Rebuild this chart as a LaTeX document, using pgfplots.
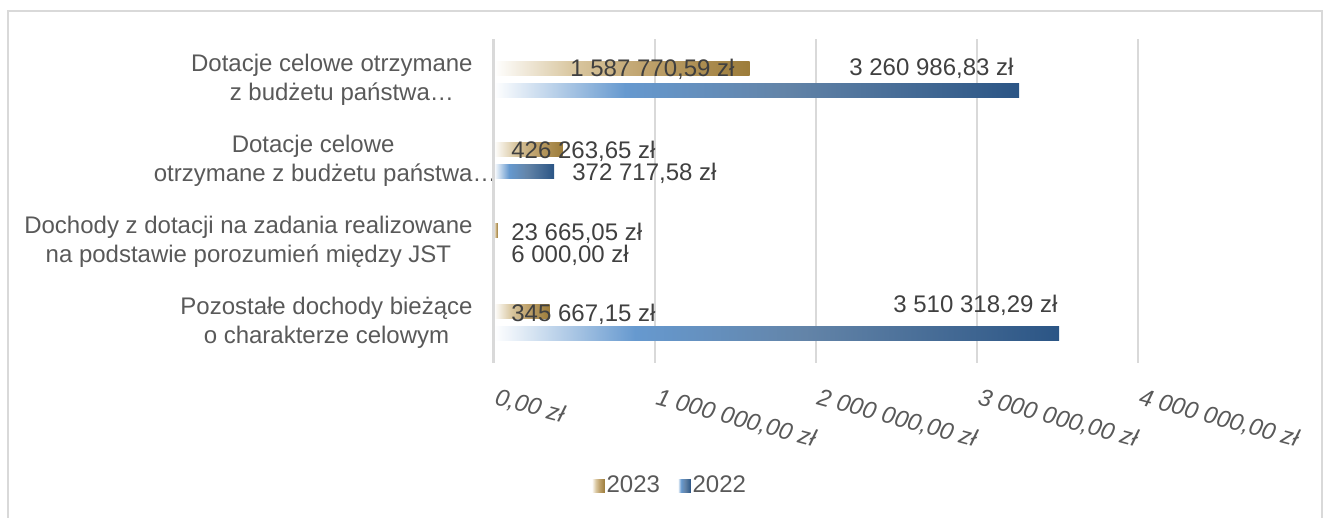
\documentclass[border=0pt]{standalone}
\usepackage{pgfplots}
\pgfplotsset{compat=1.18}
\usepackage{fontspec}
\setmainfont{Liberation Sans}
\definecolor{goldA}{HTML}{DAC8A2}
\definecolor{goldB}{HTML}{BEA16B}
\definecolor{goldC}{HTML}{9C7C3A}
\definecolor{blueA}{HTML}{6699CF}
\definecolor{blueB}{HTML}{6384A8}
\definecolor{blueC}{HTML}{2B5585}
\definecolor{gridgray}{HTML}{D9D9D9}
\definecolor{framegray}{HTML}{D9D9D9}
\definecolor{labelgray}{HTML}{404040}
\definecolor{catgray}{HTML}{595959}
\pgfdeclarehorizontalshading{goldshade}{100bp}{color(0bp)=(white); color(25bp)=(white); color(40bp)=(goldA); color(55bp)=(goldB); color(75bp)=(goldC); color(100bp)=(goldC)}
\pgfdeclarehorizontalshading{blueshade}{100bp}{color(0bp)=(white); color(25bp)=(white); color(37.5bp)=(blueA); color(52.5bp)=(blueB); color(75bp)=(blueC); color(100bp)=(blueC)}
\newcommand{\chartfont}{\fontsize{12}{14.4}\selectfont}
\pgfplotsset{
  goldbar/.style={xbar, draw=none, shading=goldshade, bar shift=5.5pt, bar width=7.25pt,
    legend image code/.code={\path[draw=none, shading=goldshade] (0pt,-3.25pt) rectangle (6.5pt,3.25pt);}},
  bluebar/.style={xbar, draw=none, shading=blueshade, bar shift=-5.5pt, bar width=7.25pt,
    legend image code/.code={\path[draw=none, shading=blueshade] (0pt,-3.25pt) rectangle (6.5pt,3.25pt);}},
}
\begin{document}
\begin{tikzpicture}
\useasboundingbox (0,0) rectangle (661.5pt,259pt);
\draw[framegray, line width=1pt] (4pt,0pt) -- (4pt,253.5pt) -- (661pt,253.5pt) -- (661pt,0pt);
\begin{axis}[
  at={(247pt,77.5pt)}, anchor=south west,
  scale only axis, width=322pt, height=162pt,
  xmin=0, xmax=4000000, ymin=-0.5, ymax=3.5,
  clip=false,
  axis line style={draw=none},
  major tick length=0pt,
  tick style={draw=none},
  scaled x ticks=false,
  xtick={0,1000000,2000000,3000000,4000000},
  xticklabels={{0,00 zł},{1 000 000,00 zł},{2 000 000,00 zł},{3 000 000,00 zł},{4 000 000,00 zł}},
  xticklabel style={font=\chartfont\itshape, text=catgray, inner sep=0pt, xshift=2pt, yshift=-12pt, rotate=-15, anchor=north west},
  ytick={0,1,2,3},
  yticklabels={
    {Pozostałe dochody bieżące\\o charakterze celowym},
    {Dochody z dotacji na zadania realizowane\\na podstawie porozumień między JST},
    {Dotacje celowe\\otrzymane z budżetu państwa…\hspace*{-12pt}\mbox{}},
    {Dotacje celowe otrzymane\\\hspace*{10pt}z budżetu państwa…}
  },
  yticklabel style={font=\chartfont, text=catgray, align=center, inner sep=0pt, anchor=east, xshift=-10.5pt},
  xmajorgrids,
  major grid style={gridgray, line width=0.75pt},
  xbar,
  bar width=7.25pt,
  legend columns=2,
  legend style={at={(0.273,-0.38)}, anchor=center, draw=none, fill=none, font=\chartfont, text=catgray,
    inner sep=0pt, nodes={inner sep=0.9pt},
    /tikz/every even column/.append style={column sep=8pt}},
]
% 2023
\addplot[goldbar] coordinates {(1587770.59,3)};
\addlegendentry{2023}
\addplot[goldbar, forget plot] coordinates {(426263.65,2)};
\addplot[goldbar, forget plot] coordinates {(23665.05,1)};
\addplot[goldbar, forget plot] coordinates {(345667.15,0)};
% 2022
\addplot[bluebar] coordinates {(3260986.83,3)};
\addlegendentry{2022}
\addplot[bluebar, forget plot] coordinates {(372717.58,2)};
\addplot[bluebar, forget plot] coordinates {(6000.00,1)};
\addplot[bluebar, forget plot] coordinates {(3510318.29,0)};
\draw[gridgray, line width=1.5pt] (0,-0.5) -- (0,3.5);
\tikzset{lbl/.style={font=\chartfont, text=labelgray, inner sep=0pt, anchor=west}}
\node[lbl] at (472050,3.130) {1 587 770,59 zł};
\node[lbl] at (2204969,3.142) {3 260 986,83 zł};
\node[lbl] at (105590,2.117) {426 263,65 zł};
\node[lbl] at (484472,1.846) {372 717,58 zł};
\node[lbl] at (105590,1.105) {23 665,05 zł};
\node[lbl] at (105590,0.833) {6 000,00 zł};
\node[lbl] at (105590,0.105) {345 667,15 zł};
\node[lbl] at (2478261,0.216) {3 510 318,29 zł};
\end{axis}
\end{tikzpicture}
\end{document}
